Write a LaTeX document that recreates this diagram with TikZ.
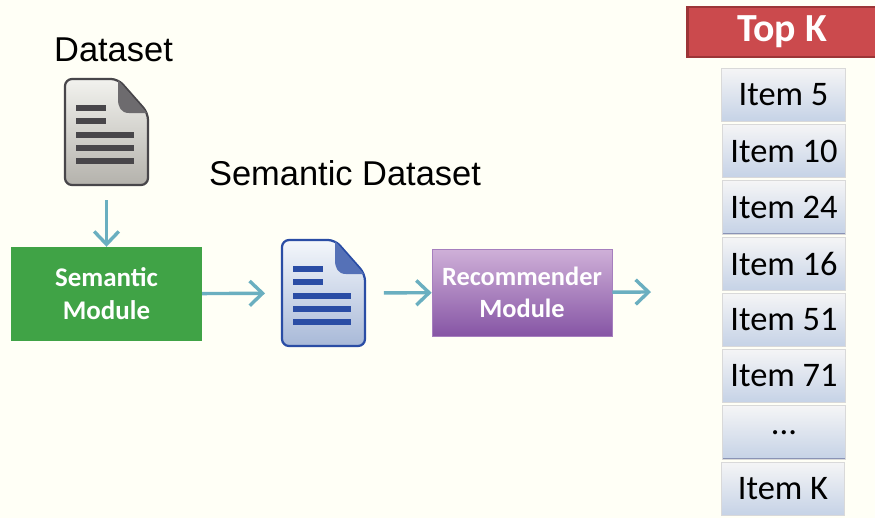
\documentclass[tikz,border=0pt]{standalone}
\usepackage{fontspec}
\setmainfont{Carlito}
\newfontfamily\helvfont{Liberation Sans}
\usetikzlibrary{arrows.meta}

\definecolor{pagebg}{HTML}{FFFFF6}
\definecolor{arrowteal}{HTML}{6AAFC0}
\definecolor{modgreen}{HTML}{40A346}
\definecolor{topred}{HTML}{CB4A4D}
\definecolor{topredline}{HTML}{9C3537}
\definecolor{graydark}{HTML}{48464A}
\definecolor{graytop}{HTML}{F2F2EE}
\definecolor{graybot}{HTML}{B4B2AC}
\definecolor{bluedark}{HTML}{2A4DA5}
\definecolor{bluetop}{HTML}{F4F7FB}
\definecolor{bluebot}{HTML}{A8B9D8}
\definecolor{purpletop}{HTML}{CFB0D8}
\definecolor{purplebot}{HTML}{8655A5}
\definecolor{purpleline}{HTML}{A67FBE}
\definecolor{itemtop}{HTML}{F5F5F6}
\definecolor{itembot}{HTML}{C5D2E6}
\definecolor{itemedge}{HTML}{8A93B5}

% page corner icon: x, y, page top, page bottom, dark colour
\newcommand{\docicon}[5]{
  \begin{scope}[shift={(#1,#2)}]
    \draw[line width=1.9pt,draw=#5,rounded corners=6,top color=#3,bottom color=#4]
      (0,0)--(53,0)--(83,34)--(83,106)--(0,106)--cycle;
    \fill[#5!80!white] (53,1)--(82,34)--(64,34) .. controls (56,34) and (53,28) .. (53,20)--cycle;
    \fill[#5] (11,26) rectangle (41,32);
    \fill[#5] (11,39) rectangle (41,45);
    \fill[#5] (11,53) rectangle (69,59);
    \fill[#5] (11,66) rectangle (69,72);
    \fill[#5] (11,79) rectangle (69,85);
  \end{scope}
}

\tikzset{
  flow/.style={line width=2.9pt,arrowteal,-{Straight Barb[length=11pt,width=21pt,line width=2.9pt]}},
  caption/.style={font=\helvfont\fontsize{29.4}{32}\selectfont,text=black,inner sep=0pt},
  module/.style={font=\bfseries\fontsize{23}{28}\selectfont,text=white,align=center,inner sep=0pt},
  item/.style={draw=black!15,line width=0.7pt,top color=itemtop,bottom color=itembot,
    minimum width=3.7cm,minimum height=1.61cm,inner sep=0pt,font=\fontsize{29.4}{32}\selectfont,
    path picture={\draw[line width=1.6pt,itemedge]
      (path picture bounding box.south west)--(path picture bounding box.south east);}},
  icon/.style={minimum width=2.5cm,minimum height=3.18cm,inner sep=0pt}
}

\begin{document}
\begin{tikzpicture}[x=0.03cm,y=-0.03cm]
  \fill[pagebg] (0,0) rectangle (875,518);
  \useasboundingbox (0,0) rectangle (875,518);

  \node[caption] (datasetlabel) at (113.5,50) {Dataset};
  \node[caption] (semanticlabel) at (345,173) {Semantic Dataset};

  \docicon{65}{79}{graytop}{graybot}{graydark}
  \docicon{282}{240}{bluetop}{bluebot}{bluedark}
  \node[icon] (dataicon) at (106.5,132) {};
  \node[icon] (semicon) at (324.5,293) {};

  \node[module,fill=modgreen,minimum width=5.73cm,minimum height=2.82cm] (semmodule) at (106.5,294) {Semantic\\Module};
  \node[module,draw=purpleline,line width=0.6pt,top color=purpletop,bottom color=purplebot,
    minimum width=5.4cm,minimum height=2.61cm,font=\bfseries\fontsize{22.5}{27}\selectfont] (recmodule) at (522,292.5) {Recommender\\Module};

  \node[font=\bfseries\fontsize{34}{38}\selectfont,text=white,fill=topred,draw=topredline,line width=2.4pt,
    minimum width=5.65cm,minimum height=1.5cm,inner sep=0pt] (topk) at (782,32) {Top K};

  \node[item] (item5) at (783.5,95) {Item 5};
  \node[item] (item10) at (784,151) {Item 10};
  \node[item] (item24) at (784,207.5) {Item 24};
  \node[item] (item16) at (784,264) {Item 16};
  \node[item] (item51) at (784,320) {Item 51};
  \node[item] (item71) at (784,376) {Item 71};
  \node[item] (itemdots) at (784,432.5) {...};
  \node[item] (itemk) at (783,489) {Item K};

  \coordinate (listin) at (651,292);

  \draw[flow,shorten <=13pt] (dataicon) -- (semmodule);
  \draw[flow,shorten >=15pt] (semmodule) -- (semicon);
  \draw[flow,shorten <=15pt] (semicon) -- (recmodule);
  \draw[flow] (recmodule) -- (listin);
\end{tikzpicture}
\end{document}
